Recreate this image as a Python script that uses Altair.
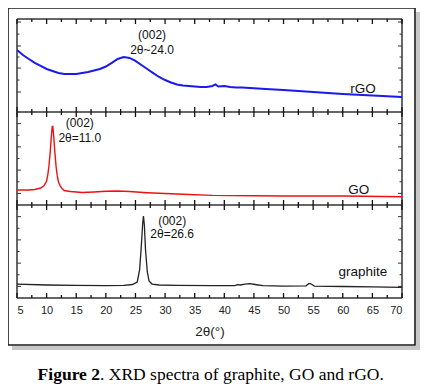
import altair as alt
import pandas as pd

# ---------------- data ----------------
# rGO (blue), intensity in arbitrary units within its own panel (0..8)
rgo_x = [5, 6, 7, 8, 9, 10, 11, 12, 13, 14, 15, 16, 17, 18, 19, 20, 21, 22, 23, 24,
         25, 26, 27, 28, 29, 30, 31, 32, 33, 34, 35, 36, 37, 38, 38.5, 39, 40, 41,
         42, 43, 45, 47, 50, 55, 60, 65, 70]
rgo_y = [5.33, 4.90, 4.56, 4.22, 3.96, 3.70, 3.53, 3.35, 3.27, 3.27, 3.27, 3.35,
         3.44, 3.57, 3.70, 3.91, 4.22, 4.56, 4.73, 4.65, 4.39, 4.04, 3.70, 3.35,
         3.01, 2.75, 2.54, 2.37, 2.28, 2.24, 2.19, 2.15, 2.15, 2.24, 2.37, 2.19,
         2.24, 2.15, 2.11, 2.11, 2.04, 1.98, 1.89, 1.72, 1.55, 1.42, 1.29]

# GO (red)
go_x = [5, 7, 8, 9, 9.5, 9.8, 10.0, 10.2, 10.4, 10.6, 10.8, 10.95, 11.05, 11.2,
        11.4, 11.6, 11.8, 12.0, 12.3, 12.6, 13, 14, 16, 18, 20, 22, 24, 27, 30,
        33, 38, 45, 50, 60, 70]
go_y = [1.29, 1.29, 1.33, 1.46, 1.63, 1.85, 2.06, 2.6, 3.4, 4.5, 5.9, 6.75, 6.75,
        5.9, 4.5, 3.3, 2.5, 1.98, 1.65, 1.42, 1.25, 1.16, 1.08, 1.12, 1.18, 1.20,
        1.16, 1.06, 0.99, 0.92, 0.83, 0.79, 0.77, 0.77, 0.71]

# graphite (black)
gr_x = [5, 10, 15, 20, 23, 24.5, 25.3, 25.7, 26.0, 26.2, 26.35, 26.5, 26.7, 27.0,
        27.3, 27.8, 29, 32, 38, 41.8, 42.2, 42.7, 43.5, 44.3, 45.2, 46.5, 50,
        53.8, 54.3, 54.6, 55.2, 60, 65, 70]
gr_y = [1.20, 1.12, 1.08, 1.06, 1.08, 1.16, 1.38, 2.41, 4.56, 6.28, 7.05, 6.28,
        4.13, 2.24, 1.46, 1.20, 1.12, 1.08, 1.06, 1.06, 1.15, 1.12, 1.20, 1.23,
        1.16, 1.06, 1.03, 1.05, 1.25, 1.22, 1.03, 0.99, 0.95, 0.92]

series_names = ["rGO", "GO", "graphite"]
series_colors = ["#1a1aee", "#ee1111", "#222222"]
series_widths = [2.0, 1.4, 1.3]
panel_offsets = [16, 8, 0]

# annotations
ann_series = ["rGO", "rGO", "rGO", "GO", "GO", "GO", "graphite", "graphite", "graphite"]
ann_x = [27.8, 27.8, 63.4, 15.6, 15.6, 62.7, 31.2, 31.2, 63.4]
ann_y = [6.6, 5.3, 1.98, 7.05, 5.76, 1.29, 6.62, 5.5, 2.24]
ann_text = ["(002)", "2θ~24.0", "rGO", "(002)", "2θ=11.0", "GO", "(002)", "2θ=26.6", "graphite"]
ann_size = [12, 12, 13.5, 12, 12, 13.5, 12, 12, 13.5]

x_tick_values = list(range(5, 75, 5))
x_minor_values = [v + 2.5 for v in range(5, 70, 5)]
y_ticks_rgo = [1.72, 2.75, 3.78, 4.73, 5.68, 6.70, 7.74]
y_ticks_std = [1, 2, 3, 4, 5, 6, 7]

W, H = 385, 279
PANEL_H = H / 3
FONT = "Liberation Sans"

# ---------------- tables ----------------
off_map = dict(zip(series_names, panel_offsets))
series_xy = {"rGO": (rgo_x, rgo_y), "GO": (go_x, go_y), "graphite": (gr_x, gr_y)}

ann_df = pd.DataFrame({"series": ann_series, "x": ann_x,
                       "y": [v + off_map[s] for v, s in zip(ann_y, ann_series)],
                       "text": ann_text, "size": ann_size})

major_df = pd.DataFrame({"xt": x_tick_values})
minor_df = pd.DataFrame({"xt": x_minor_values})

yt = []
for ticks, off in [(y_ticks_rgo, 16), (y_ticks_std, 8), (y_ticks_std, 0)]:
    for i, v in enumerate(ticks):
        yt.append({"y": v + off, "major": i % 2 == 0})
yt_df = pd.DataFrame(yt)

xscale = alt.Scale(domain=[5, 70], nice=False, zero=False)
yscale = alt.Scale(domain=[0, 24], nice=False, zero=False)

x_axis = alt.Axis(values=x_tick_values, tickSize=0, domain=False, grid=False,
                  labelPadding=6, labelFontSize=11, labelFont=FONT, labelColor="#222",
                  title="2θ(°)", titleFont=FONT, titleFontSize=13.5,
                  titleFontWeight="normal", titleColor="#222", titlePadding=9)

one = pd.DataFrame({"a": [0]})

shadow_r = alt.Chart(one).mark_rect(fill="#9a9a9a", opacity=0.55).encode(
    x=alt.value(399), x2=alt.value(403), y=alt.value(-7), y2=alt.value(331))
shadow_b = alt.Chart(one).mark_rect(fill="#9a9a9a", opacity=0.55).encode(
    x=alt.value(-5), x2=alt.value(399), y=alt.value(327), y2=alt.value(331))
frame = alt.Chart(one).mark_rect(fillOpacity=0, stroke="#1a1a1a", strokeWidth=1.6).encode(
    x=alt.value(-9), x2=alt.value(398), y=alt.value(-11), y2=alt.value(326))

hedges = alt.Chart(pd.DataFrame({"b": [0, 8, 16, 24]})).mark_rule(color="#333", strokeWidth=1.5).encode(
    y=alt.Y("b:Q", scale=yscale, axis=None), x=alt.value(0), x2=alt.value(W))
vedges = alt.Chart(pd.DataFrame({"xe": [5, 70]})).mark_rule(color="#333", strokeWidth=1.5).encode(
    x=alt.X("xe:Q", scale=xscale, axis=x_axis), y=alt.value(0), y2=alt.value(H))

# inward x ticks on every panel edge
xticks = []
for k in range(4):
    p = round(k * PANEL_H, 1)
    dirs = []
    if k < 3:
        dirs.append(1)    # top edge of a panel: tick goes down
    if k > 0:
        dirs.append(-1)   # bottom edge of a panel: tick goes up
    for d in dirs:
        for df, L in [(major_df, 5), (minor_df, 3)]:
            xticks.append(alt.Chart(df).mark_rule(color="#111", strokeWidth=1.3).encode(
                x=alt.X("xt:Q", scale=xscale, axis=x_axis),
                y=alt.value(p), y2=alt.value(p + d * L)))

def ytick_layer(major, side):
    L = 4 if major else 2.5
    if side == "left":
        xa, xb = 0, L
    else:
        xa, xb = W - L, W
    return alt.Chart(yt_df[yt_df.major == major]).mark_rule(color="#333", strokeWidth=1).encode(
        y=alt.Y("y:Q", scale=yscale, axis=None),
        x=alt.value(xa), x2=alt.value(xb))

yticks = [ytick_layer(m, s) for m in [True, False] for s in ["left", "right"]]

line_layers = []
for name, col, sw in zip(series_names, series_colors, series_widths):
    xs, ys = series_xy[name]
    df = pd.DataFrame({"x": xs, "y": [v + off_map[name] for v in ys],
                       "order": list(range(len(xs)))})
    line_layers.append(alt.Chart(df).mark_line(color=col, strokeWidth=sw, clip=True).encode(
        x=alt.X("x:Q", scale=xscale, axis=x_axis),
        y=alt.Y("y:Q", scale=yscale, axis=None),
        order="order:Q"))

ann = alt.Chart(ann_df).mark_text(font=FONT, color="#111", align="center",
                                  baseline="middle").encode(
    x=alt.X("x:Q", scale=xscale, axis=x_axis),
    y=alt.Y("y:Q", scale=yscale, axis=None),
    size=alt.Size("size:Q", scale=None, legend=None),
    text="text:N")

cap1 = alt.Chart(one).mark_text(text="Figure 2", font="Liberation Serif", fontSize=17.5,
                                fontWeight="bold", align="right", baseline="middle",
                                color="#000").encode(x=alt.value(83), y=alt.value(356))
cap2 = alt.Chart(one).mark_text(text=". XRD spectra of graphite, GO and rGO.",
                                font="Liberation Serif", fontSize=17.5, align="left",
                                baseline="middle", color="#000").encode(
    x=alt.value(83), y=alt.value(356))

chart = alt.layer(shadow_r, shadow_b, frame, hedges, vedges, *xticks, *yticks, *line_layers,
                  ann, cap1, cap2).properties(
    width=W, height=H,
    autosize=alt.AutoSizeParams(type="none"),
    padding={"left": 9, "top": 11, "right": 22, "bottom": 86},
).configure_view(stroke=None)

chart.save("out.html", embed_options={"renderer": "svg", "actions": False})
